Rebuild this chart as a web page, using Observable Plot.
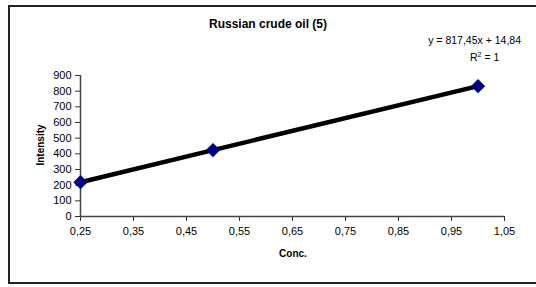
<!DOCTYPE html>
<html>
<head>
<meta charset="utf-8">
<script src="https://cdn.jsdelivr.net/npm/d3@7"></script>
<script src="https://cdn.jsdelivr.net/npm/@observablehq/plot@0.6"></script>
<style>
  body { margin: 0; background: #fff; font-family: "Liberation Sans", Arial, sans-serif; }
  #wrap { position: relative; width: 536px; height: 287px; overflow: hidden; }
  #border { position: absolute; left: 8px; top: 5px; width: 560px; height: 279px; border: 2px solid #222; box-sizing: border-box; }
  #chart { position: absolute; left: 0; top: 0; }
  .t { position: absolute; color: #000; white-space: nowrap; }
</style>
</head>
<body>
<div id="wrap">
  <div id="border"></div>
  <div id="chart"></div>
  <div class="t" id="title" style="left:0;width:536px;top:17px;text-align:center;font-weight:bold;font-size:12px;">Russian crude oil (5)</div>
  <div class="t" style="right:15px;top:34px;font-size:10.5px;">y = 817,45x + 14,84</div>
  <div class="t" style="left:470px;top:51px;font-size:10.5px;">R<sup style="font-size:7px;vertical-align:4px;line-height:0">2</sup> = 1</div>
  <div class="t" style="left:268px;top:248px;width:50px;text-align:center;font-weight:bold;font-size:10px;">Conc.</div>
  <div class="t" style="left:40px;top:145px;font-weight:bold;font-size:10px;transform:translate(-50%,-50%) rotate(-90deg);">Intensity</div>
</div>
<script>
const conc = [0.25, 0.5, 1.0];
const intensity = [219, 424, 832];
const xTicks = [0.25, 0.35, 0.45, 0.55, 0.65, 0.75, 0.85, 0.95, 1.05];
const yTicks = [0, 100, 200, 300, 400, 500, 600, 700, 800, 900];

const data = conc.map((c, i) => ({conc: c, intensity: intensity[i]}));
const fmt = d => d.toFixed(2).replace(".", ",");

const plot = Plot.plot({
  width: 536,
  height: 287,
  marginLeft: 80,
  marginRight: 32,
  marginTop: 75,
  marginBottom: 71,
  style: {fontFamily: "'Liberation Sans', Arial, sans-serif", fontSize: "11px", background: "transparent", color: "#000"},
  x: {domain: [0.25, 1.05]},
  y: {domain: [0, 900]},
  marks: [
    Plot.axisX({ticks: xTicks, tickFormat: fmt, tickSize: 5, tickPadding: 6, label: null, stroke: "#333"}),
    Plot.axisY({ticks: yTicks, tickSize: 5, tickPadding: 4, label: null, stroke: "#333"}),
    Plot.ruleY([0], {stroke: "#444", strokeWidth: 1.5}),
    Plot.ruleX([0.25], {stroke: "#444", strokeWidth: 1.5}),
    Plot.line(data, {x: "conc", y: "intensity", stroke: "#000", strokeWidth: 4.5}),
    Plot.dot(data, {x: "conc", y: "intensity", symbol: "diamond2", r: 5.5, fill: "#000080", stroke: "#000080"})
  ]
});
document.getElementById("chart").appendChild(plot);
</script>
</body>
</html>
